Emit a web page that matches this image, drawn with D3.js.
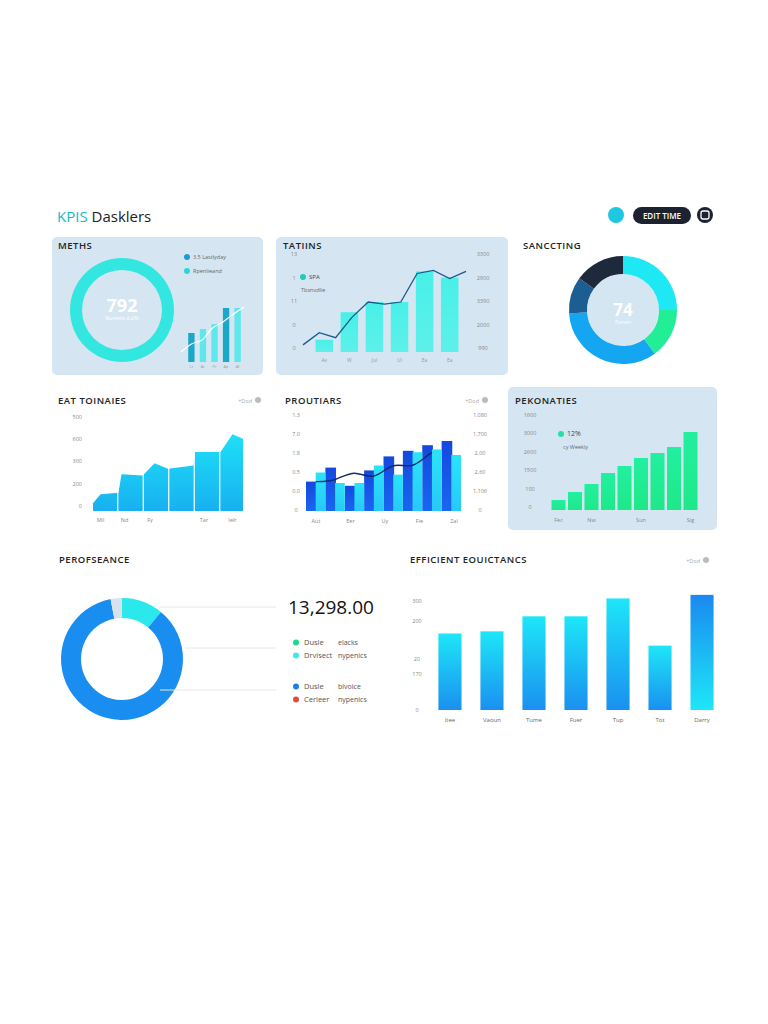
<!DOCTYPE html>
<html><head><meta charset="utf-8">
<script src="https://cdn.jsdelivr.net/npm/d3@7"></script>
<style>body{margin:0;background:#fff}svg{display:block;font-family:"Open Sans",sans-serif}</style>
</head><body><svg id="c" width="768" height="1024"></svg>
<script>
// ---- data ----
const metDonut = [1];
const metBars = [29, 33, 38, 54, 54];
const metLine = [10, 18, 22, 34, 40, 48, 55];
const tatCats = ["Av","W","Jul","Ul","Ea","Ea"];
const tatBars = [12, 39, 49, 49, 79, 73];
const tatLine = [7, 19, 14, 34, 49, 47, 49, 77, 80, 72, 79];
const tatLeftTicks = ["0","0","11","1","13"];
const tatRightTicks = ["990","2000","3390","2900","3300"];
const sancVals = [25, 15, 34, 11, 15];
const eatCats = ["Mil","Nd","Fy","Tar","Ielr"];
const eatVals = [[0,70],[0.05,150],[0.17,165],[0.19,330],[0.33,320],[0.34,330],[0.41,430],[0.5,380],[0.67,410],[0.68,530],[0.85,530],[0.93,690],[1,650]];
const eatTicks = ["0","200","300","600","500"];
const proCats = ["Aut","Eer","Uy","Fie","Zal"];
const proDark = [42, 62, 36, 58, 78, 86, 94, 100];
const proLight = [55, 40, 40, 65, 52, 84, 88, 80];
const proLine = [42, 60, 42, 72, 58, 88, 92, 130];
const proLeft = ["0","0.0","0.5","1.8","7.0","1.3"];
const proRight = ["0","1,106","2,60","2,00","1,700","1,080"];
const pekVals = [10, 18, 26, 37, 44, 52, 57, 63, 78];
const pekCats = ["Fec","","Nw","","","Sun","","","Sig"];
const pekTicks = ["0","100","1500","2600","3000","1600"];
const perfVals = [11, 86, 3];
const perfLegend = [["Dusle","elacks","#1ed890"],["Drvisect","nypenics","#3de8ec"],["Dusle","bivoice","#1a80e0"],["Cerleer","nypenics","#e84a3a"]];
const effCats = ["Itee","Vaoun","Tume","Fuer","Tup","Tot","Darry"];
const effVals = [214, 220, 262, 262, 312, 180, 322];
const effTicks = [["0",0],["170",100],["20",143],["200",250],["300",305]];

const svg = d3.select("#c");
const defs = svg.append("defs");
function grad(id, c1, c2){const g=defs.append("linearGradient").attr("id",id).attr("x1",0).attr("y1",0).attr("x2",0).attr("y2",1);
 g.append("stop").attr("offset","0%").attr("stop-color",c1);g.append("stop").attr("offset","100%").attr("stop-color",c2);}
grad("gEat","#1ee0f8","#18b0f0");grad("gPro","#1448e0","#1a66f0");grad("gProL","#2ae4f8","#28c8f8");
grad("gPek","#22f0a0","#1ee888");grad("gEff","#1ee6f8","#1a90f0");grad("gEff2","#1a8af0","#1ee6f8");
grad("gTat","#48f0e8","#5ef0ea");
const txt=(x,y,s,o={})=>svg.append("text").attr("x",x).attr("y",y).text(s)
 .attr("font-size",o.fs||7).attr("fill",o.fill||"#777").attr("font-weight",o.fw||400).attr("text-anchor",o.a||"start").attr("letter-spacing",o.ls||0);

// header
svg.append("text").attr("x",57).attr("y",222).attr("font-size",15).attr("fill","#222")
 .call(t=>{t.append("tspan").attr("fill","#18b8c8").text("KPIS ");t.append("tspan").text("Dasklers");});
svg.append("circle").attr("cx",616).attr("cy",215).attr("r",8).attr("fill","#1ec8e0");
svg.append("rect").attr("x",633).attr("y",207).attr("width",58).attr("height",17).attr("rx",8.5).attr("fill","#1c2230");
txt(662,219,"EDIT TIME",{fs:8,fill:"#fff",a:"middle",fw:600});
svg.append("circle").attr("cx",705).attr("cy",215).attr("r",8).attr("fill","#1c2230");
svg.append("rect").attr("x",701).attr("y",211).attr("width",8).attr("height",8).attr("rx",2).attr("fill","none").attr("stroke","#fff").attr("stroke-width",1.3);

// panels
const panel=(x,y,w,h)=>svg.append("rect").attr("x",x).attr("y",y).attr("width",w).attr("height",h).attr("rx",5).attr("fill","#d5e6f2");
panel(52,237,211,138);panel(276,237,232,138);panel(508,387,209,143);
const title=(x,y,s)=>txt(x,y,s,{fs:9.5,fill:"#222",fw:600,ls:0.5});
title(58,249,"METHS");title(283,249,"TATIINS");title(523,249,"SANCCTING");
title(58,404,"EAT TOINAIES");title(285,404,"PROUTIARS");title(515,404,"PEKONATIES");
title(59,563,"PEROFSEANCE");title(410,563,"EFFICIENT EOUICTANCS");
[[258,400],[485,400],[706,560]].forEach(([x,y])=>{txt(x-6,y+3,"+Dod",{fs:5.5,fill:"#aaa",a:"end"});svg.append("circle").attr("cx",x).attr("cy",y).attr("r",3).attr("fill","#bbb");});

// METHS donut
const arc=(ri,ro)=>d3.arc().innerRadius(ri).outerRadius(ro);
const pie=d3.pie().sort(null);
svg.append("g").attr("transform","translate(122,310)").selectAll("path").data(pie(metDonut)).join("path").attr("d",arc(40,52)).attr("fill","#34e6e0");
txt(122,312,"792",{fs:18,fill:"#fff",a:"middle",fw:700});
txt(122,320,"Numero d.a5k",{fs:5,fill:"#fff",a:"middle"});
svg.append("circle").attr("cx",187).attr("cy",257).attr("r",3).attr("fill","#1a9ad8");txt(193,259,"3.5 Lastlyday",{fs:5.5,fill:"#666"});
svg.append("circle").attr("cx",187).attr("cy",271).attr("r",3).attr("fill","#2ad8d8");txt(193,273,"Rpenlieand",{fs:5.5,fill:"#666"});
{const x=d3.scaleBand().domain(d3.range(metBars.length)).range([183,246]).padding(0.45),y=d3.scaleLinear().domain([0,60]).range([362,302]);
 svg.selectAll(".mb").data(metBars).join("rect").attr("x",(d,i)=>x(i)).attr("width",x.bandwidth()).attr("y",d=>y(d)).attr("height",d=>362-y(d)).attr("fill",(d,i)=>i%3===0?"#1ba8c8":(i==3?"#1b9ac4":"#5ee8ec"));
 ["Lt","Ar","Pr","Ap","Al"].forEach((s,i)=>txt(x(i)+x.bandwidth()/2,368,s,{fs:4,fill:"#999",a:"middle"}));
 const lx=d3.scaleLinear().domain([0,metLine.length-1]).range([181,244]);
 svg.append("path").attr("d",d3.line().x((d,i)=>lx(i)).y(d=>y(d)).curve(d3.curveCatmullRom)(metLine)).attr("fill","none").attr("stroke","#fff").attr("stroke-width",1.2);}

// TATIINS
{const x=d3.scaleBand().domain(d3.range(tatBars.length)).range([308,466]).padding(0.3),y=d3.scaleLinear().domain([0,100]).range([352,250]);
 svg.selectAll(".tb").data(tatBars).join("rect").attr("x",(d,i)=>x(i)).attr("width",x.bandwidth()).attr("y",d=>y(d)).attr("height",d=>352-y(d)).attr("fill","url(#gTat)");
 const lx=d3.scaleLinear().domain([0,tatLine.length-1]).range([303,466]);
 svg.append("path").attr("d",d3.line().x((d,i)=>lx(i)).y(d=>y(d))(tatLine)).attr("fill","none").attr("stroke","#1a5a8a").attr("stroke-width",1.3);
 tatLeftTicks.forEach((s,i)=>txt(294,350-i*23.5,s,{fs:5.5,fill:"#888",a:"middle"}));
 tatRightTicks.forEach((s,i)=>txt(483,350-i*23.5,s,{fs:5.5,fill:"#888",a:"middle"}));
 tatCats.forEach((s,i)=>txt(x(i)+x.bandwidth()/2,362,s,{fs:5,fill:"#999",a:"middle"}));
 svg.append("circle").attr("cx",303).attr("cy",277).attr("r",3).attr("fill","#28c8b8");txt(309,279,"SPA",{fs:6,fill:"#445"});txt(301,292,"Tbsnvdlie",{fs:5.5,fill:"#667"});}

// SANCCTING donut
{const cols=["#1ee8f4","#22ee98","#14a6f0","#1c5e92","#1e2a3c"];
 svg.append("circle").attr("cx",623).attr("cy",310).attr("r",36).attr("fill","#d4e6f2");
 svg.append("g").attr("transform","translate(623,310)").selectAll("path").data(pie(sancVals)).join("path").attr("d",arc(36,54)).attr("fill",(d,i)=>cols[i]);
 txt(623,316,"74",{fs:17,fill:"#fff",a:"middle",fw:700});txt(623,324,"Parsen",{fs:5,fill:"#fff",a:"middle"});}

// EAT TOINAIES area
{const x=d3.scaleLinear().domain([0,1]).range([93,243]),y=d3.scaleLinear().domain([0,800]).range([511,422]);
 svg.append("path").attr("d",d3.area().x(d=>x(d[0])).y0(511).y1(d=>y(d[1]))(eatVals)).attr("fill","url(#gEat)");
 [0.165,0.335,0.505,0.675,0.845].forEach(v=>svg.append("line").attr("x1",x(v)).attr("x2",x(v)).attr("y1",420).attr("y2",511).attr("stroke","#fff").attr("stroke-width",1.2));
 svg.append("rect").attr("x",90).attr("y",412).attr("width",160).attr("height",10).attr("fill","#fff");
 eatTicks.forEach((s,i)=>txt(82,508-i*22.3,s,{fs:5.5,fill:"#888",a:"end"}));
 [0.05,0.21,0.38,0.74,0.93].forEach((v,i)=>txt(x(v),522,eatCats[i],{fs:5.5,fill:"#888",a:"middle"}));}

// PROUTIARS
{const n=proDark.length,x=d3.scaleBand().domain(d3.range(n)).range([306,461]).padding(0),y=d3.scaleLinear().domain([0,130]).range([511,420]);
 const bw=x.bandwidth();
 svg.selectAll(".pd").data(proDark).join("rect").attr("x",(d,i)=>x(i)).attr("width",bw*0.55).attr("y",d=>y(d)).attr("height",d=>511-y(d)).attr("fill","url(#gPro)");
 svg.selectAll(".pl").data(proLight).join("rect").attr("x",(d,i)=>x(i)+bw*0.5).attr("width",bw*0.5).attr("y",d=>y(d)).attr("height",d=>511-y(d)).attr("fill","url(#gProL)");
 svg.append("path").attr("d",d3.line().x((d,i)=>x(i)+bw*0.5).y(d=>y(d)).curve(d3.curveBasis)([proDark[0],...proLine])).attr("fill","none").attr("stroke","#122a6a").attr("stroke-width",1.4);
 proLeft.forEach((s,i)=>txt(296,512-i*19,s,{fs:5.5,fill:"#888",a:"middle"}));
 proRight.forEach((s,i)=>txt(480,512-i*19,s,{fs:5.5,fill:"#888",a:"middle"}));
 proCats.forEach((s,i)=>txt(316+i*34.5,523,s,{fs:5.5,fill:"#888",a:"middle"}));}

// PEKONATIES
{const x=d3.scaleBand().domain(d3.range(pekVals.length)).range([549,700]).padding(0.15),y=d3.scaleLinear().domain([0,100]).range([510,410]);
 svg.selectAll(".gb").data(pekVals).join("rect").attr("x",(d,i)=>x(i)).attr("width",x.bandwidth()).attr("y",d=>y(d)).attr("height",d=>510-y(d)).attr("fill","url(#gPek)");
 pekTicks.forEach((s,i)=>txt(530,509-i*18.5,s,{fs:5.5,fill:"#888",a:"middle"}));
 pekCats.forEach((s,i)=>s&&txt(x(i)+x.bandwidth()/2,522,s,{fs:5.5,fill:"#888",a:"middle"}));
 svg.append("circle").attr("cx",561).attr("cy",434).attr("r",3).attr("fill","#22e0a8");txt(567,436,"12%",{fs:7,fill:"#445"});txt(563,449,"cy Weekly",{fs:5.5,fill:"#667"});}

// PEROFSEANCE donut
{const cols=["#2ae8ec","#1a8ef0","#d8e2ec"];
 svg.append("g").attr("transform","translate(122,659)").selectAll("path").data(pie(perfVals)).join("path").attr("d",arc(41,61)).attr("fill",(d,i)=>cols[i]);
 [[160,607],[185,648],[160,690]].forEach(([x,y])=>svg.append("line").attr("x1",x).attr("x2",276).attr("y1",y).attr("y2",y).attr("stroke","#e2e6ea").attr("stroke-width",1));
 txt(288,614,"13,298.00",{fs:19,fill:"#111"});
 perfLegend.forEach((d,i)=>{const yy=[645,658,689,702][i];svg.append("circle").attr("cx",296).attr("cy",yy-2.5).attr("r",3).attr("fill",d[2]);
  txt(304,yy,d[0],{fs:7.5,fill:"#555"});txt(338,yy,d[1],{fs:7,fill:"#555"});});}

// EFFICIENT
{const y=d3.scaleLinear().domain([0,330]).range([710,592]);
 const x=d3.scaleBand().domain(effCats).range([430,722]).paddingInner(0.45).paddingOuter(0.2);
 svg.selectAll(".eb").data(effVals).join("rect").attr("x",(d,i)=>x(effCats[i])).attr("width",x.bandwidth()).attr("y",d=>y(d)).attr("height",d=>710-y(d)).attr("fill",(d,i)=>i===6?"url(#gEff2)":"url(#gEff)");
 effTicks.forEach(([s,v])=>txt(417,y(v)+2,s,{fs:5.5,fill:"#888",a:"middle"}));
 effCats.forEach((s,i)=>txt(x(s)+x.bandwidth()/2,722,s,{fs:6,fill:"#666",a:"middle"}));}
</script></body></html>
